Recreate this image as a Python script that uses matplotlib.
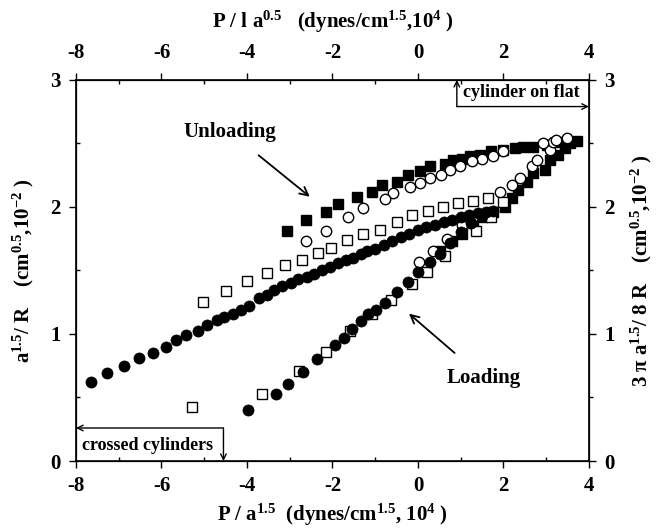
import numpy as np
import matplotlib
matplotlib.use("Agg")
import matplotlib.pyplot as plt

plt.rcParams['font.family'] = ['Liberation Serif', 'DejaVu Serif']
plt.rcParams['font.weight'] = 'bold'
plt.rcParams['mathtext.default'] = 'regular'
plt.rcParams['axes.unicode_minus'] = False

# ---- data ----
# filled circles: loading branch then unloading branch
fc_x = [-3.98, -3.31, -3.05, -2.68, -2.37, -1.94, -1.73, -1.55, -1.33, -1.18, -0.97, -0.77,
        -0.50, -0.23, 0.01, 0.28, 0.51, 0.75, 1.0, 1.25, 1.5, 1.75,
        1.6, 1.4, 1.2, 1.0, 0.8, 0.6, 0.4, 0.2, 0.0, -0.2, -0.4, -0.6, -0.8, -1.0,
        -1.20, -1.33, -1.51, -1.68, -1.86, -2.06, -2.24, -2.43, -2.60, -2.80, -2.98,
        -3.17, -3.36, -3.54, -3.72, -3.95, -4.14, -4.33, -4.54, -4.71, -4.94, -5.15,
        -5.42, -5.66, -5.90, -6.20, -6.53, -6.88, -7.28, -7.66]
fc_y = [0.40, 0.53, 0.61, 0.70, 0.80, 0.91, 0.97, 1.04, 1.10, 1.16, 1.19, 1.24,
        1.33, 1.41, 1.49, 1.57, 1.63, 1.72, 1.80, 1.87, 1.93, 1.97,
        1.96, 1.95, 1.94, 1.92, 1.90, 1.88, 1.86, 1.84, 1.82, 1.79, 1.76, 1.73, 1.70, 1.67,
        1.65, 1.63, 1.60, 1.58, 1.56, 1.53, 1.50, 1.47, 1.45, 1.43, 1.40,
        1.38, 1.35, 1.31, 1.28, 1.22, 1.19, 1.16, 1.13, 1.11, 1.07, 1.02,
        0.99, 0.95, 0.90, 0.85, 0.81, 0.75, 0.69, 0.62]

# open squares
os_x = [-5.29, -3.64, -2.78, -2.15, -1.59, -1.08, -0.62, -0.15, 0.22, 0.63, 1.37, 1.72, 2.0,
        1.65, 1.29, 0.94, 0.59, 0.24, -0.15, -0.50, -0.89, -1.28, -1.67, -2.04, -2.33,
        -2.71, -3.10, -3.54, -3.99, -4.48, -5.04]
os_y = [0.425, 0.53, 0.71, 0.86, 1.02, 1.16, 1.27, 1.39, 1.49, 1.61, 1.81, 1.92, 2.04,
        2.07, 2.05, 2.03, 2.00, 1.97, 1.94, 1.88, 1.82, 1.79, 1.74, 1.68, 1.635,
        1.585, 1.54, 1.48, 1.42, 1.34, 1.25]

# open circles
oc_x = [0.03, 0.36, 0.67, 1.02, 1.29, 1.92, 2.19, 2.39, 2.66, 2.78, 3.09, 3.17, 3.48,
        3.24, 2.93, 2.0, 1.76, 1.49, 1.26, 0.98, 0.75, 0.55, 0.28, 0.05, -0.19, -0.58,
        -0.77, -1.28, -1.63, -2.16, -2.62]
oc_y = [1.57, 1.65, 1.75, 1.86, 1.92, 2.12, 2.17, 2.23, 2.32, 2.37, 2.45, 2.51, 2.54,
        2.53, 2.50, 2.44, 2.40, 2.38, 2.36, 2.32, 2.29, 2.25, 2.23, 2.19, 2.16, 2.11,
        2.06, 1.99, 1.92, 1.81, 1.73]

# filled squares
fs_x = [0.51, 0.79, 1.02, 1.29, 1.53, 1.76, 2.04, 2.19, 2.35, 2.54, 2.70, 2.97, 3.09,
        3.28, 3.44, 3.56, 3.71, 3.32, 3.01, 2.70, 2.46, 2.27, 2.00, 1.72, 1.45, 1.22,
        1.02, 0.83, 0.63, 0.28, 0.05, -0.23, -0.50, -0.85, -1.08, -1.43, -1.87, -2.14,
        -2.62, -3.07]
fs_y = [1.65, 1.73, 1.79, 1.87, 1.92, 1.96, 2.00, 2.07, 2.13, 2.20, 2.27, 2.29, 2.37,
        2.41, 2.46, 2.50, 2.52, 2.51, 2.49, 2.47, 2.47, 2.46, 2.45, 2.44, 2.41, 2.40,
        2.38, 2.37, 2.34, 2.32, 2.28, 2.25, 2.20, 2.17, 2.12, 2.08, 2.02, 1.96,
        1.90, 1.81]

xticks = [-8, -6, -4, -2, 0, 2, 4]
yticks = [0, 1, 2, 3]

fig = plt.figure(figsize=(6.58, 5.29), dpi=100)
ax = fig.add_axes([0.1155, 0.1285, 0.7795, 0.7205])

ms = 7.5
ax.plot(fs_x, fs_y, 's', ms=ms, mfc='black', mec='black', mew=1.0, zorder=3)
ax.plot(oc_x, oc_y, 'o', ms=ms, mfc='white', mec='black', mew=1.0, zorder=4)
ax.plot(os_x, os_y, 's', ms=ms, mfc='white', mec='black', mew=1.0, zorder=5)
ax.plot(fc_x, fc_y, 'o', ms=ms + 0.5, mfc='black', mec='black', mew=0.5, zorder=6)

ax.set_xlim(-8, 4)
ax.set_ylim(0, 3)
ax.set_xticks(xticks)
ax.set_yticks(yticks)
ax.set_xticks(np.arange(-7, 4, 2), minor=True)
ax.set_yticks([0.5, 1.5, 2.5], minor=True)
for s in ax.spines.values():
    s.set_linewidth(1.2)

tick_fs = 15
ax.tick_params(axis='both', which='major', direction='out', length=5, width=1,
               labelsize=tick_fs, pad=6)
ax.tick_params(axis='both', which='minor', direction='in', length=3, width=1)
for lab in ax.get_xticklabels() + ax.get_yticklabels():
    lab.set_fontweight('bold')

axt = ax.twiny()
axt.set_xlim(-8, 4)
axt.set_xticks(xticks)
axt.set_xticks(np.arange(-7, 4, 2), minor=True)
axt.tick_params(axis='x', which='major', direction='out', length=5, width=1,
                labelsize=tick_fs, pad=7)
axt.tick_params(axis='x', which='minor', direction='in', length=3, width=1)

axr = ax.twinx()
axr.set_ylim(0, 3)
axr.set_yticks(yticks)
axr.set_yticks([0.5, 1.5, 2.5], minor=True)
axr.tick_params(axis='y', which='major', direction='out', length=5, width=1,
                labelsize=tick_fs, pad=6)
axr.tick_params(axis='y', which='minor', direction='out', length=3, width=1)
for a in (axt, axr):
    for lab in a.get_xticklabels() + a.get_yticklabels():
        lab.set_fontweight('bold')

lab_fs = 15
ax.set_xlabel('P / a$^{1.5}$  (dynes/cm$^{1.5}$, 10$^{4}$ )', fontsize=lab_fs,
              fontweight='bold', labelpad=4)
axt.set_xlabel('P / l a$^{0.5}$   (dynes/cm$^{1.5}$,10$^{4}$ )', fontsize=lab_fs,
               fontweight='bold', labelpad=11)
ax.set_ylabel('a$^{1.5}$/ R    (cm$^{0.5}$,10$^{-2}$ )', fontsize=lab_fs,
              fontweight='bold', labelpad=10)
axr.set_ylabel('3 π a$^{1.5}$/ 8 R    (cm$^{0.5}$,10$^{-2}$ )', fontsize=lab_fs,
               fontweight='bold', rotation=90, labelpad=10)

# annotations
ax.annotate('Unloading', xy=(-2.53, 2.08), xytext=(-4.40, 2.59), fontsize=15,
            fontweight='bold', ha='center', va='center',
            arrowprops=dict(arrowstyle='->', lw=1.3, color='black',
                            shrinkA=12, shrinkB=0))
ax.annotate('Loading', xy=(-0.21, 1.16), xytext=(1.55, 0.65), fontsize=15,
            fontweight='bold', ha='center', va='center',
            arrowprops=dict(arrowstyle='->', lw=1.3, color='black',
                            shrinkA=14, shrinkB=0))

# cylinder on flat bracket
ax.annotate('', xy=(0.91, 3.0), xytext=(0.91, 2.79),
            arrowprops=dict(arrowstyle='->', lw=1.0, color='black', shrinkA=0, shrinkB=0))
ax.annotate('', xy=(4.0, 2.79), xytext=(0.91, 2.79),
            arrowprops=dict(arrowstyle='->', lw=1.0, color='black', shrinkA=0, shrinkB=0))
ax.text(1.05, 2.90, 'cylinder on flat', fontsize=13, fontweight='bold',
        ha='left', va='center')

# crossed cylinders bracket
ax.annotate('', xy=(-8.0, 0.26), xytext=(-4.55, 0.26),
            arrowprops=dict(arrowstyle='->', lw=1.0, color='black', shrinkA=0, shrinkB=0))
ax.annotate('', xy=(-4.55, 0.0), xytext=(-4.55, 0.26),
            arrowprops=dict(arrowstyle='->', lw=1.0, color='black', shrinkA=0, shrinkB=0))
ax.text(-7.85, 0.12, 'crossed cylinders', fontsize=13, fontweight='bold',
        ha='left', va='center')

fig.savefig('out.png', dpi=100)
